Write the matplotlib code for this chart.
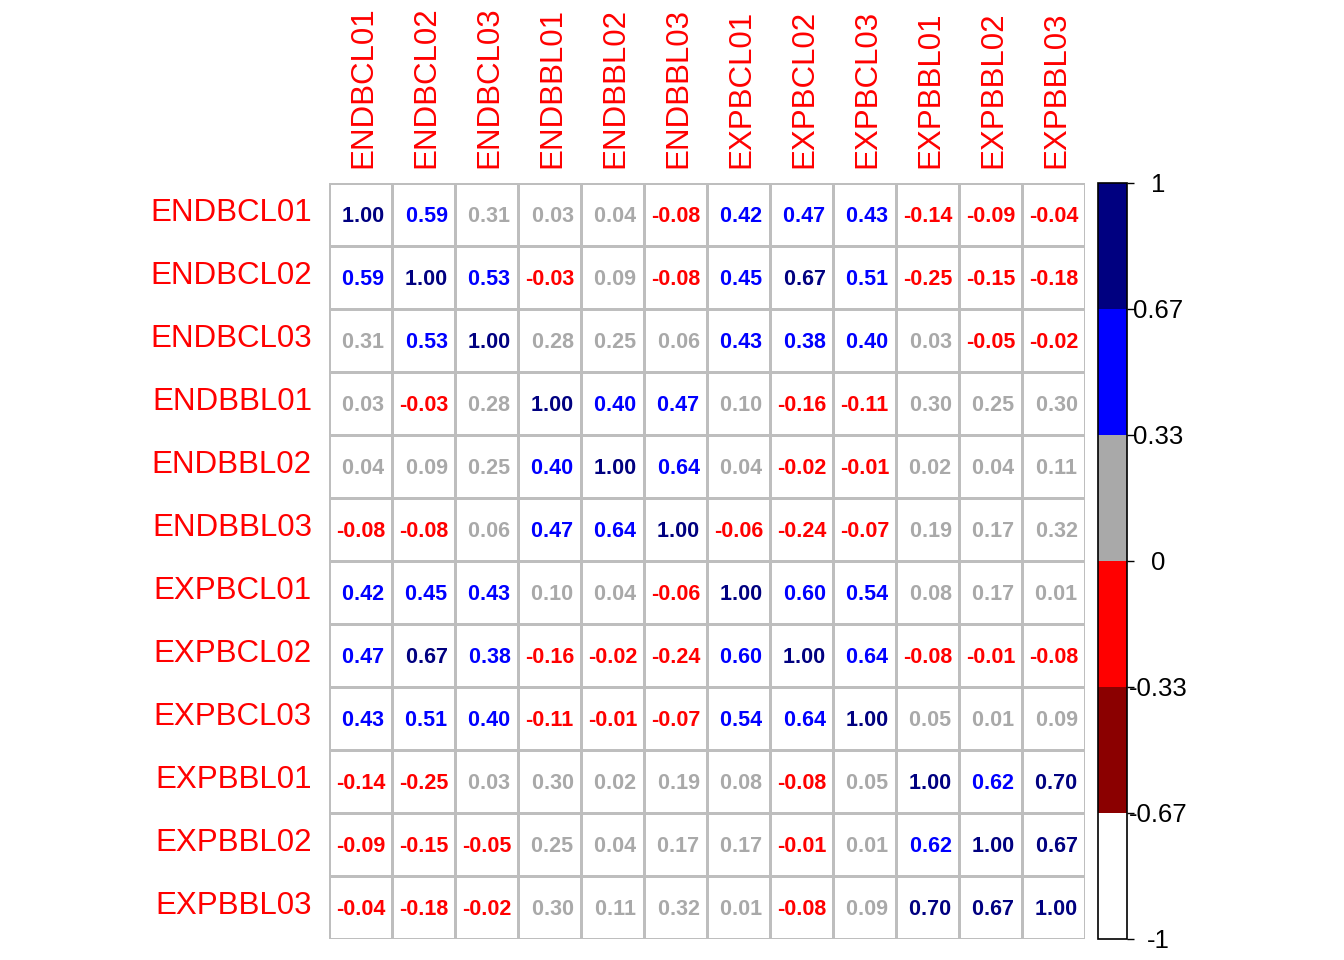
import numpy as np
import matplotlib
matplotlib.use('Agg')
import matplotlib.pyplot as plt
from matplotlib.colors import ListedColormap, BoundaryNorm

plt.rcParams['font.family'] = ['Liberation Sans', 'DejaVu Sans']

# 样本名称
samples = ['ENDBCL01', 'ENDBCL02', 'ENDBCL03', 'ENDBBL01', 'ENDBBL02', 'ENDBBL03',
           'EXPBCL01', 'EXPBCL02', 'EXPBCL03', 'EXPBBL01', 'EXPBBL02', 'EXPBBL03']

# 相关系数矩阵
corr = [
    [1.00, 0.59, 0.31, 0.03, 0.04, -0.08, 0.42, 0.47, 0.43, -0.14, -0.09, -0.04],
    [0.59, 1.00, 0.53, -0.03, 0.09, -0.08, 0.45, 0.67, 0.51, -0.25, -0.15, -0.18],
    [0.31, 0.53, 1.00, 0.28, 0.25, 0.06, 0.43, 0.38, 0.40, 0.03, -0.05, -0.02],
    [0.03, -0.03, 0.28, 1.00, 0.40, 0.47, 0.10, -0.16, -0.11, 0.30, 0.25, 0.30],
    [0.04, 0.09, 0.25, 0.40, 1.00, 0.64, 0.04, -0.02, -0.01, 0.02, 0.04, 0.11],
    [-0.08, -0.08, 0.06, 0.47, 0.64, 1.00, -0.06, -0.24, -0.07, 0.19, 0.17, 0.32],
    [0.42, 0.45, 0.43, 0.10, 0.04, -0.06, 1.00, 0.60, 0.54, 0.08, 0.17, 0.01],
    [0.47, 0.67, 0.38, -0.16, -0.02, -0.24, 0.60, 1.00, 0.64, -0.08, -0.01, -0.08],
    [0.43, 0.51, 0.40, -0.11, -0.01, -0.07, 0.54, 0.64, 1.00, 0.05, 0.01, 0.09],
    [-0.14, -0.25, 0.03, 0.30, 0.02, 0.19, 0.08, -0.08, 0.05, 1.00, 0.62, 0.70],
    [-0.09, -0.15, -0.05, 0.25, 0.04, 0.17, 0.17, -0.01, 0.01, 0.62, 1.00, 0.67],
    [-0.04, -0.18, -0.02, 0.30, 0.11, 0.32, 0.01, -0.08, 0.09, 0.70, 0.67, 1.00],
]

# 颜色分段
bin_colors = ['white', '#8B0000', '#FF0000', '#A9A9A9', '#0000FF', '#000080']
bounds = [-1, -2 / 3, -1 / 3, 0, 1 / 3, 2 / 3, 1]
tick_labels = ['-1', '-0.67', '-0.33', '0', '0.33', '0.67', '1']

cmap = ListedColormap(bin_colors)
norm = BoundaryNorm(bounds, cmap.N)

mat = np.array(corr)
n = len(samples)

W, H = 1344, 960
fig = plt.figure(figsize=(W / 100, H / 100), dpi=100)

# 主网格
ax = fig.add_axes([329 / W, (H - 939) / H, 756 / W, 756 / H])
ax.pcolormesh(np.zeros((n, n)), cmap=ListedColormap(['white']),
              edgecolors='#BEBEBE', linewidth=2)
ax.set_xlim(0, n)
ax.set_ylim(n, 0)
for s in ax.spines.values():
    s.set_visible(False)
ax.set_xticks([])
ax.set_yticks([])

for i in range(n):
    for j in range(n):
        v = mat[i, j]
        # 正数前留一个空格，与负号对齐
        ax.text(j + 0.5, i + 0.53, f'{v:5.2f}', ha='center', va='center',
                fontsize=15.5, fontweight='bold', color=cmap(norm(v)))

# 行列标签
for k, name in enumerate(samples):
    ax.text(-0.27, k + 0.47, name, ha='right', va='center',
            fontsize=22.5, color='red')
    ax.text(k + 0.54, -0.24, name, ha='center', va='bottom', rotation=90,
            fontsize=22.5, color='red')

# 颜色条
cax = fig.add_axes([1098 / W, (H - 939) / H, 29 / W, 756 / H])
sm = plt.cm.ScalarMappable(cmap=cmap, norm=norm)
cb = fig.colorbar(sm, cax=cax, ticks=bounds, spacing='proportional')
cb.outline.set_linewidth(1.2)
cb.outline.set_edgecolor('black')
cax.tick_params(axis='y', length=5, width=1, pad=17.5, labelsize=18.5)
cax.set_yticklabels(tick_labels)
for lab in cax.get_yticklabels():
    lab.set_ha('center')

fig.savefig('out.png', dpi=100)
